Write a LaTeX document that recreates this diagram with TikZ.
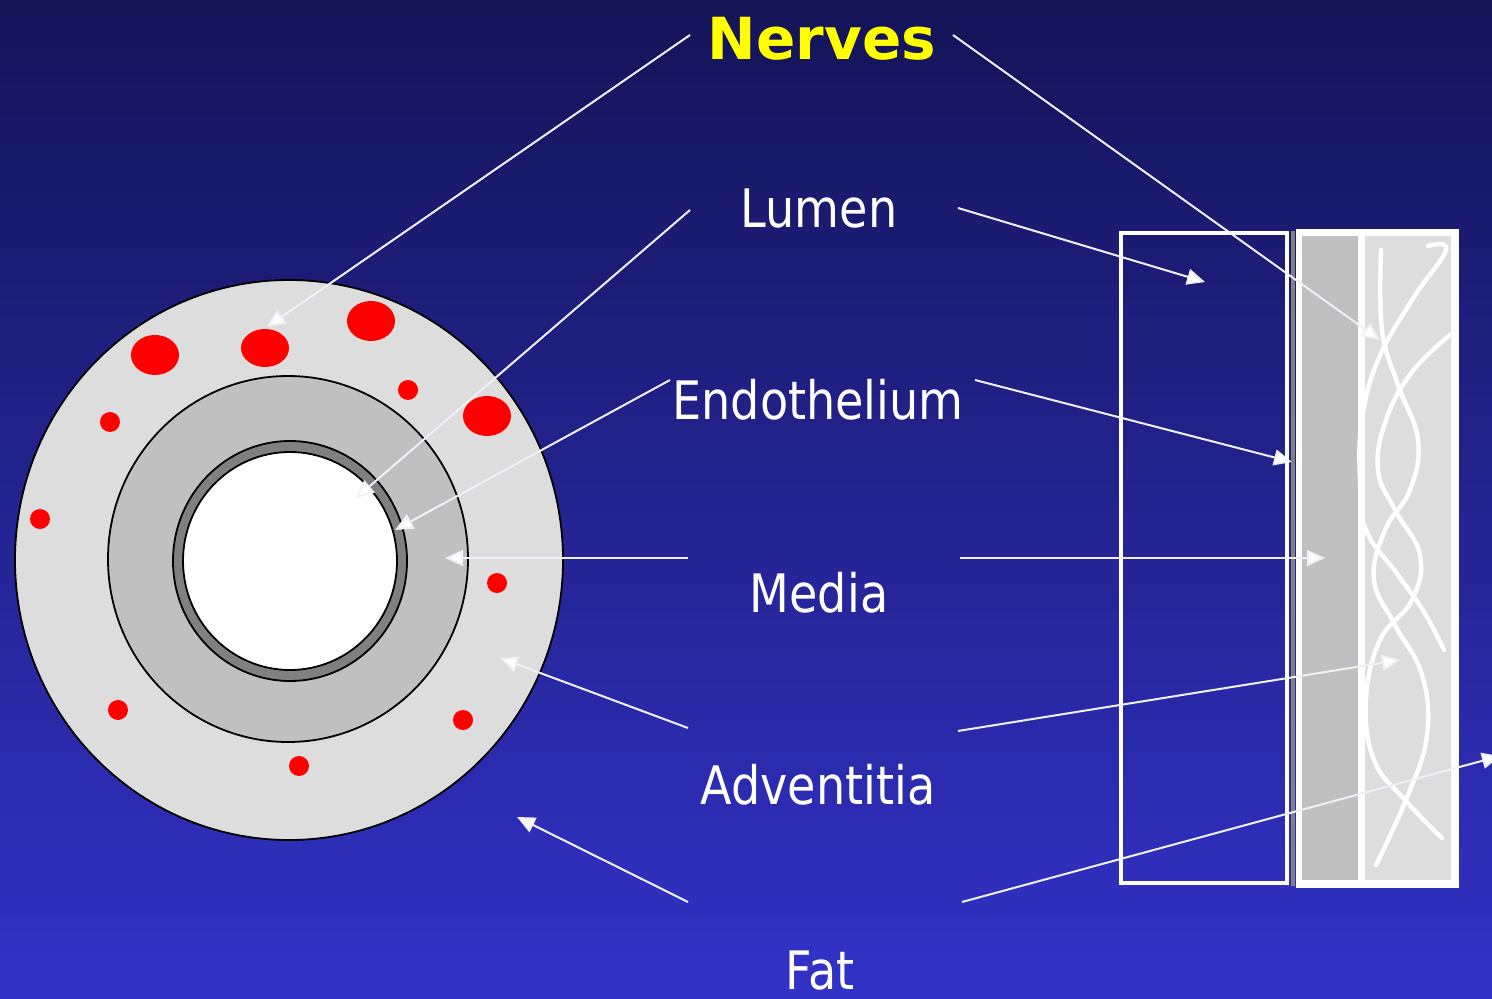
\documentclass[tikz,border=0pt]{standalone}
\usepackage{fontspec}
\setmainfont{DejaVu Sans}[FakeStretch=0.87]
\newfontfamily\headfont{DejaVu Sans}
\usetikzlibrary{arrows.meta}

\definecolor{bgtop}{RGB}{20,20,88}
\definecolor{bgmid}{RGB}{36,36,160}
\definecolor{bgbot}{RGB}{50,50,200}
\definecolor{advgray}{RGB}{221,221,221}
\definecolor{medgray}{RGB}{192,192,192}
\definecolor{endgray}{RGB}{128,128,128}
\definecolor{nerveyellow}{RGB}{255,255,0}
\definecolor{pointer}{RGB}{240,240,248}

\begin{document}
\begin{tikzpicture}[x=0.5pt,y=-0.5pt,
  label/.style={text=white,font=\fontsize{26.5}{30}\selectfont,inner sep=0pt,anchor=base},
  pointer/.style={draw=pointer,line width=1pt,-{Triangle[length=9pt,width=8pt,fill=white]}},
  vessel/.style={draw=black,line width=0.9pt},
  dot/.style={fill=red},
  fibre/.style={draw=white,line width=2.2pt,line cap=round}]

% background
\useasboundingbox (0,0) rectangle (1492,999);
\shade[top color=bgtop,middle color=bgmid,bottom color=bgbot] (0,0) rectangle (1492,999);

% cross-section of the vessel
\filldraw[vessel,fill=advgray] (289,560) ellipse [x radius=274,y radius=280];
\filldraw[vessel,fill=medgray] (288,559) ellipse [x radius=180,y radius=183];
\filldraw[vessel,fill=endgray] (290,561) ellipse [x radius=117,y radius=120];
\filldraw[vessel,fill=white] (290,561) ellipse [x radius=107,y radius=109];

% vasa vasorum in the adventitia
\fill[dot] (155,355) ellipse [x radius=24,y radius=20];
\fill[dot] (265,348) ellipse [x radius=24,y radius=19];
\fill[dot] (371,321) ellipse [x radius=24,y radius=20];
\fill[dot] (487,416) ellipse [x radius=24,y radius=20];
\foreach \p in {(408,390),(110,422),(40,519),(497,583),(118,710),(463,720),(299,766)}
  \fill[dot] \p circle [radius=10];

% longitudinal section
\draw[white,line width=2.2pt] (1121,233) rectangle (1287,883);
\fill[endgray] (1291,231) rectangle (1295,886);
\fill[white] (1296,229) rectangle (1459,888);
\fill[medgray] (1302,236) rectangle (1358,880);
\fill[advgray] (1365,236) rectangle (1451,880);

% adventitial fibres
\draw[fibre] plot[smooth,tension=0.7] coordinates {(1381,250) (1382,330) (1398,385) (1418,440) (1410,490) (1385,530) (1374,580) (1395,625) (1422,675) (1427,735) (1408,795) (1376,865)};
\draw[fibre] plot[smooth,tension=0.7] coordinates {(1428,246) (1446,250) (1412,300) (1378,360) (1362,420) (1360,480) (1366,530) (1398,575) (1424,612) (1444,650)};
\draw[fibre] plot[smooth,tension=0.7] coordinates {(1450,335) (1412,372) (1386,420) (1378,470) (1395,510) (1420,555) (1412,600) (1380,640) (1366,700) (1374,760) (1405,800) (1442,838)};

% labels
\node[label,font=\headfont\fontsize{29}{32}\selectfont\bfseries,text=nerveyellow] (nerves) at (822,60) {Nerves};
\node[label] (lumen) at (819,228) {Lumen};
\node[label] (endo) at (818,420) {Endothelium};
\node[label] (media) at (819,612) {Media};
\node[label] (adv) at (818,804) {Adventitia};
\node[label] (fat) at (820,989) {Fat};

% connector ends
\coordinate (nervesL) at (690,35);  \coordinate (nervesR) at (953,35);
\coordinate (lumenL) at (690,210);  \coordinate (lumenR) at (958,208);
\coordinate (endoL) at (670,380);   \coordinate (endoR) at (975,380);
\coordinate (mediaL) at (688,558);  \coordinate (mediaR) at (960,558);
\coordinate (advL) at (688,728);    \coordinate (advR) at (958,731);
\coordinate (fatL) at (688,902);    \coordinate (fatR) at (962,902);

\coordinate (nerveDot) at (267,327);   \coordinate (nerveFibre) at (1380,340);
\coordinate (lumenCirc) at (356,498);  \coordinate (lumenRect) at (1205,282);
\coordinate (endoCirc) at (395,530);   \coordinate (endoRect) at (1292,462);
\coordinate (mediaCirc) at (445,558);  \coordinate (mediaRect) at (1325,558);
\coordinate (advCirc) at (500,658);    \coordinate (advRect) at (1400,660);
\coordinate (fatCirc) at (517,817);    \coordinate (fatRect) at (1500,756);

% connectors
\draw[pointer] (nervesL) -- (nerveDot);
\draw[pointer] (nervesR) -- (nerveFibre);
\draw[pointer] (lumenL) -- (lumenCirc);
\draw[pointer] (lumenR) -- (lumenRect);
\draw[pointer] (endoL) -- (endoCirc);
\draw[pointer] (endoR) -- (endoRect);
\draw[pointer] (mediaL) -- (mediaCirc);
\draw[pointer] (mediaR) -- (mediaRect);
\draw[pointer] (advL) -- (advCirc);
\draw[pointer] (advR) -- (advRect);
\draw[pointer] (fatL) -- (fatCirc);
\draw[pointer] (fatR) -- (fatRect);
\end{tikzpicture}
\end{document}
